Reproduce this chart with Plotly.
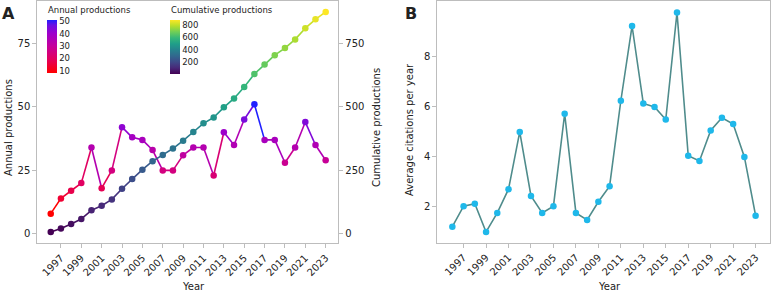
import plotly.graph_objects as go
from plotly.colors import sample_colorscale

# ---------------- data ----------------
years = list(range(1996, 2024))
annual = [8, 14, 17, 20, 34, 18, 25, 42, 38, 37, 33, 25, 25, 31, 34, 34, 23, 40, 35, 45,
          51, 37, 37, 28, 34, 44, 35, 29]
cumulative = [8, 22, 39, 59, 93, 111, 136, 178, 216, 253, 286, 311, 336, 367, 401, 435,
              458, 498, 533, 578, 629, 666, 703, 731, 765, 809, 844, 873]
citations = [1.2, 2.02, 2.12, 0.99, 1.75, 2.7, 4.99, 2.43, 1.75, 2.02, 5.72, 1.75, 1.47,
             2.2, 2.82, 6.24, 9.23, 6.13, 5.99, 5.49, 9.77, 4.04, 3.83, 5.05, 5.56, 5.31,
             3.99, 1.64]
x_tickvals = list(range(1997, 2024, 2))
annual_cb_ticks = [10, 20, 30, 40, 50]
cum_cb_ticks = [200, 400, 600, 800]

# ---------------- style ----------------
W, H = 771, 293
FONT = "DejaVu Sans"
TXT = "#222222"
FRAME = "#bdbdbd"
annual_cs = [[0.0, "#ff0000"], [0.25, "#e4005a"], [0.5, "#c6009a"],
             [0.75, "#9c00cc"], [0.9, "#6c10e2"], [1.0, "#2020ff"]]
cum_cs = "Viridis"

def px(xp):
    return xp / W

def py(yp):
    return 1 - yp / H

fig = go.Figure()

# ---- Panel A: annual productions (segments coloured by start value) ----
amin, amax = min(annual), max(annual)
for i in range(len(years) - 1):
    c = sample_colorscale(annual_cs, (annual[i] - amin) / (amax - amin))[0]
    fig.add_trace(go.Scatter(x=years[i:i + 2], y=annual[i:i + 2], mode="lines",
                             line=dict(color=c, width=1.6), showlegend=False,
                             hoverinfo="skip", xaxis="x", yaxis="y"))
fig.add_trace(go.Scatter(
    x=years, y=annual, mode="markers", showlegend=False, xaxis="x", yaxis="y",
    marker=dict(size=6.5, color=annual, colorscale=annual_cs, cmin=amin, cmax=amax,
                colorbar=dict(x=px(47), xanchor="left", y=py(20), yanchor="top",
                              len=53, lenmode="pixels", thickness=10,
                              outlinewidth=0, xpad=0, ypad=0,
                              tickvals=annual_cb_ticks, ticks="",
                              tickfont=dict(family=FONT, size=8.5, color=TXT)))))

# ---- Panel A: cumulative productions ----
cmin_, cmax_ = min(cumulative), max(cumulative)
for i in range(len(years) - 1):
    c = sample_colorscale(cum_cs, (cumulative[i] - cmin_) / (cmax_ - cmin_))[0]
    fig.add_trace(go.Scatter(x=years[i:i + 2], y=cumulative[i:i + 2], mode="lines",
                             line=dict(color=c, width=1.6), showlegend=False,
                             hoverinfo="skip", xaxis="x", yaxis="y2"))
fig.add_trace(go.Scatter(
    x=years, y=cumulative, mode="markers", showlegend=False, xaxis="x", yaxis="y2",
    marker=dict(size=6.5, color=cumulative, colorscale=cum_cs, cmin=cmin_, cmax=cmax_,
                colorbar=dict(x=px(170), xanchor="left", y=py(20), yanchor="top",
                              len=54, lenmode="pixels", thickness=10,
                              outlinewidth=0, xpad=0, ypad=0,
                              tickvals=cum_cb_ticks, ticks="",
                              tickfont=dict(family=FONT, size=8.5, color=TXT)))))

# ---- Panel B ----
fig.add_trace(go.Scatter(x=years, y=citations, mode="lines+markers", showlegend=False,
                         xaxis="x2", yaxis="y3",
                         line=dict(color="#4f8c8c", width=1.6),
                         marker=dict(size=6.5, color="#1fb8ea")))

axis_common = dict(showline=True, linecolor=FRAME, linewidth=1,
                   ticks="outside", ticklen=4, tickcolor=FRAME, showgrid=False,
                   zeroline=False, automargin=False,
                   tickfont=dict(family=FONT, size=10, color=TXT))


def ann(text, x, y, size=10, angle=0, bold=False, xanchor="center", yanchor="middle"):
    return dict(text=f"<b>{text}</b>" if bold else text, x=px(x), y=py(y),
                xref="paper", yref="paper", xanchor=xanchor, yanchor=yanchor,
                textangle=angle, showarrow=False,
                font=dict(family=FONT, size=size, color=TXT))


fig.update_layout(
    width=W, height=H, margin=dict(l=0, r=0, t=0, b=0, autoexpand=False),
    paper_bgcolor="white", plot_bgcolor="white",
    font=dict(family=FONT, size=10, color=TXT),
    xaxis=dict(domain=[px(37.3), px(338.3)], range=[1994.68, 2024.24],
               tickvals=x_tickvals, tickangle=-45, mirror=True,
               anchor="y", **axis_common),
    yaxis=dict(domain=[py(243.3), py(1)], range=[-3.66, 91.6],
               tickvals=[0, 25, 50, 75], anchor="x", mirror=False, **axis_common),
    yaxis2=dict(domain=[py(243.3), py(1)], range=[-36.6, 916], overlaying="y",
                side="right", anchor="x", tickvals=[0, 250, 500, 750], **axis_common),
    xaxis2=dict(domain=[px(437.3), px(770)], range=[1994.66, 2024.28],
                tickvals=x_tickvals, tickangle=-45, anchor="y3", mirror=True,
                **axis_common),
    yaxis3=dict(domain=[py(242.7), py(1)], range=[0.56, 10.23],
                tickvals=[2, 4, 6, 8], anchor="x2", mirror=True, **axis_common),
    annotations=[
        ann("A", 0, 2, size=16, bold=True, xanchor="left", yanchor="top"),
        ann("B", 403, 2, size=16, bold=True, xanchor="left", yanchor="top"),
        ann("Annual productions", 46, 3, size=8.5, xanchor="left", yanchor="top"),
        ann("Cumulative productions", 169, 3, size=8.5, xanchor="left", yanchor="top"),
        ann("Annual productions", 8, 128, angle=-90),
        ann("Cumulative productions", 376, 128, angle=-90),
        ann("Average citations per year", 410, 130, angle=-90),
        ann("Year", 193, 286),
        ann("Year", 609, 286),
    ],
)

fig.write_html("out.html", config={"displayModeBar": False},
               post_script="document.body.style.margin='0';document.body.style.overflow='hidden';")
